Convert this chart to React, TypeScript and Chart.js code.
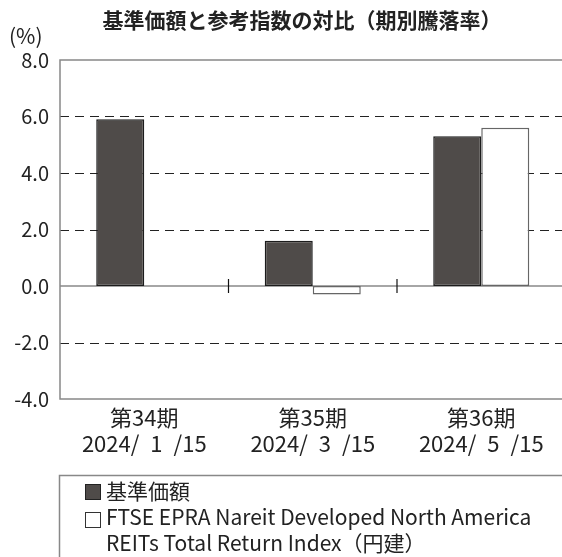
import React, { useEffect, useRef } from "react";
import { Chart, registerables } from "chart.js";

Chart.register(...registerables);

const titleText = "基準価額と参考指数の対比（期別騰落率）";
const unitText = "(%)";
const categories: string[][] = [
  ["第34期", "2024/\u20021\u2002/15"],
  ["第35期", "2024/\u20023\u2002/15"],
  ["第36期", "2024/\u20025\u2002/15"],
];
const fundLabel = "基準価額";
const indexLabelLines = [
  "FTSE EPRA Nareit Developed North America",
  "REITs Total Return Index（円建）",
];
const fundValues: (number | null)[] = [5.9, 1.6, 5.3];
const indexValues: (number | null)[] = [null, -0.3, 5.6];
const yMin = -4;
const yMax = 8;
const yStep = 2;
const dashedGridValues = [6, 4, 2, -2];

const FONT = "'Noto Sans CJK JP', 'Noto Sans', sans-serif";
const DARK = "#4f4b49";

const framePlugin = {
  id: "frame",
  beforeDraw(chart: any) {
    const { ctx, width, height } = chart;
    ctx.save();
    ctx.fillStyle = "#ffffff";
    ctx.fillRect(0, 0, width, height);
    ctx.restore();
  },
  beforeDatasetsDraw(chart: any) {
    const { ctx, chartArea, scales } = chart;
    const { left, right, top, bottom } = chartArea;
    const y = scales.y;
    ctx.save();
    ctx.setLineDash([9, 6]);
    ctx.strokeStyle = "#222";
    ctx.lineWidth = 1;
    for (const v of dashedGridValues) {
      const py = Math.round(y.getPixelForValue(v)) + 0.5;
      ctx.beginPath();
      ctx.moveTo(left, py);
      ctx.lineTo(right, py);
      ctx.stroke();
    }
    ctx.setLineDash([]);
    ctx.strokeStyle = "#888";
    ctx.lineWidth = 1.5;
    ctx.beginPath();
    ctx.moveTo(right, top);
    ctx.lineTo(left, top);
    ctx.lineTo(left, bottom);
    ctx.lineTo(right, bottom);
    ctx.stroke();
    const zy = y.getPixelForValue(0);
    ctx.beginPath();
    ctx.moveTo(left, zy);
    ctx.lineTo(right, zy);
    ctx.stroke();
    ctx.restore();
  },
  afterDatasetsDraw(chart: any) {
    const { ctx, scales } = chart;
    const x = scales.x;
    const zy = scales.y.getPixelForValue(0);
    ctx.save();
    ctx.strokeStyle = "#111";
    ctx.lineWidth = 1.2;
    for (let i = 0; i < categories.length - 1; i++) {
      const px = (x.getPixelForValue(i) + x.getPixelForValue(i + 1)) / 2;
      ctx.beginPath();
      ctx.moveTo(px, zy - 7);
      ctx.lineTo(px, zy + 7);
      ctx.stroke();
    }
    ctx.restore();
  },
  afterDraw(chart: any) {
    const { ctx } = chart;
    ctx.save();
    ctx.fillStyle = "#222";
    ctx.textBaseline = "middle";
    // title
    ctx.font = `bold 21px ${FONT}`;
    ctx.textAlign = "center";
    ctx.fillText(titleText, 302, 20);
    // unit
    ctx.font = `21px ${FONT}`;
    ctx.textAlign = "left";
    ctx.fillText(unitText, 9, 36);
    // legend box
    ctx.strokeStyle = "#888";
    ctx.lineWidth = 1.5;
    ctx.beginPath();
    ctx.moveTo(59.5, 570);
    ctx.lineTo(59.5, 475.5);
    ctx.lineTo(580, 475.5);
    ctx.stroke();
    // legend items
    ctx.fillStyle = DARK;
    ctx.fillRect(85, 484, 16, 16);
    ctx.strokeStyle = "#222";
    ctx.lineWidth = 1;
    ctx.strokeRect(85.5, 484.5, 15, 15);
    ctx.fillStyle = "#fff";
    ctx.fillRect(85, 512, 16, 16);
    ctx.strokeStyle = "#333";
    ctx.strokeRect(85.5, 512.5, 15, 15);
    ctx.fillStyle = "#222";
    ctx.font = `21px ${FONT}`;
    ctx.fillText(fundLabel, 106, 491);
    ctx.fillText(indexLabelLines[0], 106, 517);
    ctx.fillText(indexLabelLines[1], 106, 543);
    ctx.restore();
  },
};

export default function App() {
  const canvasRef = useRef<HTMLCanvasElement | null>(null);

  useEffect(() => {
    const canvas = canvasRef.current;
    if (!canvas) return;
    const chart = new Chart(canvas, {
      type: "bar",
      data: {
        labels: categories,
        datasets: [
          {
            label: fundLabel,
            data: fundValues,
            backgroundColor: DARK,
            borderColor: "#1c1c1c",
            borderWidth: 1.5,
            borderSkipped: false,
            categoryPercentage: 0.57,
            barPercentage: 1.0,
          },
          {
            label: indexLabelLines.join(" "),
            data: indexValues,
            backgroundColor: "#ffffff",
            borderColor: "#666",
            borderWidth: 1.5,
            borderSkipped: false,
            categoryPercentage: 0.57,
            barPercentage: 1.0,
          },
        ],
      },
      options: {
        responsive: false,
        animation: false,
        devicePixelRatio: 1,
        layout: { padding: { top: 60, right: 4.5, bottom: 0, left: 0 } },
        plugins: {
          legend: { display: false },
          title: { display: false },
          tooltip: { enabled: false },
        },
        scales: {
          x: {
            grid: { display: false, drawTicks: false },
            border: { display: false },
            ticks: {
              color: "#222",
              font: { family: FONT, size: 22 },
              padding: 5,
              maxRotation: 0,
              autoSkip: false,
            },
            afterFit(scale: any) {
              scale.height = 158;
            },
          },
          y: {
            min: yMin,
            max: yMax,
            grid: { display: false, drawTicks: false },
            border: { display: false },
            ticks: {
              stepSize: yStep,
              color: "#222",
              font: { family: FONT, size: 20 },
              padding: 11,
              callback: (v: any) => Number(v).toFixed(1),
            },
            afterFit(scale: any) {
              scale.width = 60;
            },
          },
        },
      },
      plugins: [framePlugin],
    });
    return () => chart.destroy();
  }, []);

  return (
    <div
      style={{
        position: "absolute",
        left: 0,
        top: 0,
        width: 562,
        height: 557,
        overflow: "hidden",
        background: "#fff",
      }}
    >
      <canvas ref={canvasRef} width={570} height={557} style={{ width: 570, height: 557, display: "block" }} />
    </div>
  );
}
